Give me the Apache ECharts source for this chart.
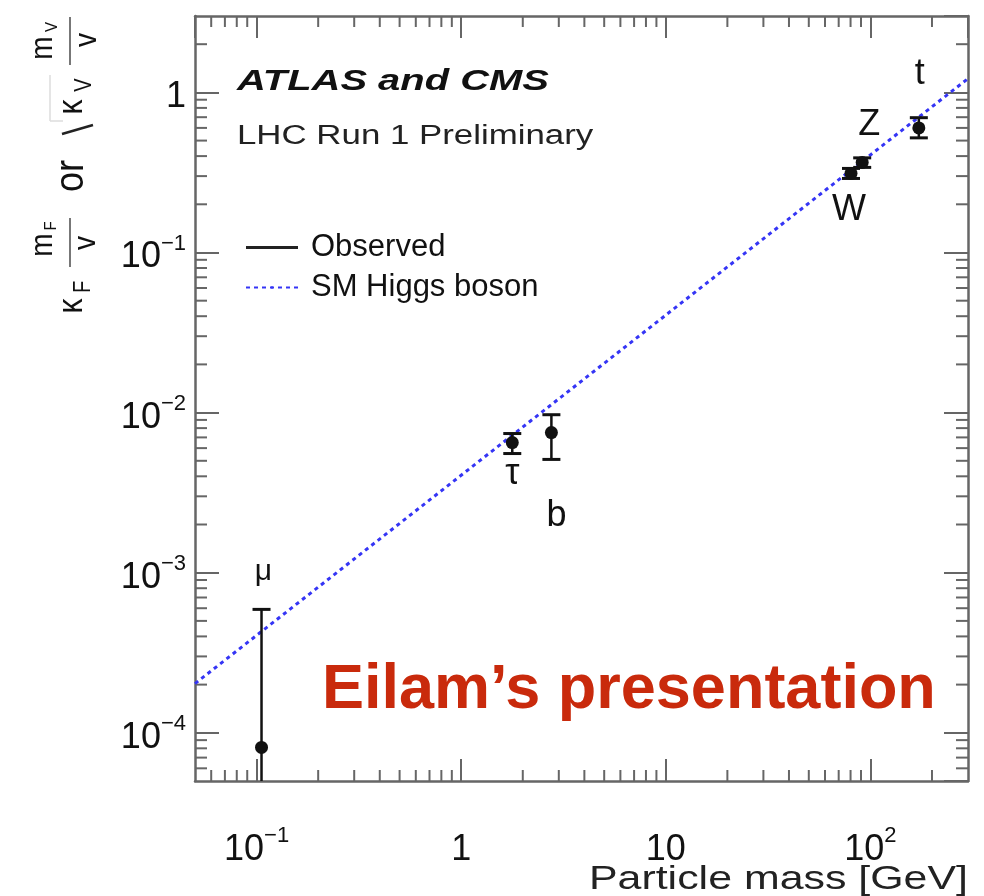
<!DOCTYPE html>
<html><head><meta charset="utf-8">
<script src="https://cdn.jsdelivr.net/npm/echarts@6/dist/echarts.min.js"></script>
<style>html,body{margin:0;padding:0;background:#fff}#c{width:984px;height:896px}</style>
</head><body><div id="c"></div>
<script>
// ---- data ----
const particles  = ['μ', 'τ', 'b', 'W', 'Z', 't'];
const masses     = [0.1057, 1.777, 2.76, 80.4, 91.2, 172.5];          // GeV
const observed   = [8.1e-5, 6.5e-3, 7.5e-3, 0.312, 0.365, 0.60];
const lowerBound = [1e-6, 5.55e-3, 5.1e-3, 0.29, 0.34, 0.52];          // μ lower bound is off-scale
const upperBound = [5.9e-4, 7.4e-3, 9.7e-3, 0.335, 0.39, 0.695];
const smMass     = [0.05, 300];
const smCoupling = [2.03e-4, 1.22];
const xRange = [0.05, 300];
const yRange = [5e-5, 3];
const xMinorTicks = [0.06,0.07,0.08,0.09, 0.2,0.3,0.4,0.5,0.6,0.7,0.8,0.9, 2,3,4,5,6,7,8,9, 20,30,40,50,60,70,80,90, 200];
const yMinorTicks = [6e-5,7e-5,8e-5,9e-5, 2e-4,3e-4,4e-4,5e-4,6e-4,7e-4,8e-4,9e-4,
                     2e-3,3e-3,4e-3,5e-3,6e-3,7e-3,8e-3,9e-3, 2e-2,3e-2,4e-2,5e-2,6e-2,7e-2,8e-2,9e-2,
                     0.2,0.3,0.4,0.5,0.6,0.7,0.8,0.9, 2];

// ---- styles ----
const FONT = '"Liberation Sans", Arial, Helvetica, sans-serif';
const INK = '#111';
const FRAME = '#666';
const labelOffset = { 'μ': [2, -176], 'τ': [0, 32], 'b': [5, 83], 'W': [-2, 37], 'Z': [7, -37], 't': [1, -54] };
const labelFont = { 'μ': 30 };

function logLabel(v) {
  const l = Math.log10(v), e = Math.round(l);
  if (Math.abs(l - e) > 1e-6) return '';
  if (e === 0) return '{n|1}';
  if (e === 1) return '{n|10}';
  return '{n|10}{s|' + (e < 0 ? '−' : '') + Math.abs(e) + '}';
}
const labelRich = {
  n: { fontSize: 36, fontFamily: FONT, color: INK, lineHeight: 50 },
  s: { fontSize: 22, fontFamily: FONT, color: INK, lineHeight: 22, verticalAlign: 'top' }
};

function axisBase(extra) {
  return Object.assign({
    type: 'log', logBase: 10,
    axisLine: { show: true, lineStyle: { color: FRAME, width: 2.5 } },
    splitLine: { show: false },
    minorTick: { show: false }
  }, extra);
}

const chart = echarts.init(document.getElementById('c'), null, { renderer: 'canvas' });

function rotText(text, x, y, size, extra) {
  return Object.assign({
    type: 'text', x: x, y: y, rotation: Math.PI / 2, scaleY: 1.15, z: 100,
    style: { text: text, font: size + 'px ' + FONT, fill: INK, align: 'center', verticalAlign: 'middle' }
  }, extra || {});
}
function seg(x1, y1, x2, y2, color, w) {
  return { type: 'line', z: 100, shape: { x1: x1, y1: y1, x2: x2, y2: y2 }, style: { stroke: color, lineWidth: w } };
}

const option = {
  animation: false,
  backgroundColor: '#fff',
  grid: { left: 195, right: 16, top: 16, bottom: 115, containLabel: false },
  legend: {
    orient: 'vertical', left: 245, top: 232, padding: 0, itemWidth: 52, itemHeight: 3, itemGap: 9,
    textStyle: { fontSize: 31, fontFamily: FONT, color: INK, padding: [0, 0, 0, 8] },
    selectedMode: false,
    data: [
      { name: 'Observed', icon: 'rect', itemStyle: { color: '#222' } },
      { name: 'SM Higgs boson' }
    ]
  },
  xAxis: [
    axisBase({ position: 'bottom', min: xRange[0], max: xRange[1],
      axisTick: { show: true, inside: true, length: 22, lineStyle: { color: FRAME, width: 2 } },
      axisLabel: { show: true, margin: 44, formatter: logLabel, rich: labelRich, showMinLabel: false, showMaxLabel: false } }),
    axisBase({ position: 'top', min: xRange[0], max: xRange[1],
      axisTick: { show: true, inside: true, length: 22, lineStyle: { color: FRAME, width: 2 } },
      axisLabel: { show: false } })
  ],
  yAxis: [
    axisBase({ position: 'left', min: yRange[0], max: yRange[1],
      axisTick: { show: true, inside: true, length: 24, lineStyle: { color: FRAME, width: 2 } },
      axisLabel: { show: true, margin: 9, formatter: logLabel, rich: labelRich, padding: [10, 0, 0, 0], showMinLabel: false, showMaxLabel: false } }),
    axisBase({ position: 'right', min: yRange[0], max: yRange[1],
      axisTick: { show: true, inside: true, length: 24, lineStyle: { color: FRAME, width: 2 } },
      axisLabel: { show: false } })
  ],
  series: [
    { // minor ticks, x (bottom & top)
      type: 'custom', silent: true, z: 1, clip: false,
      data: xMinorTicks.map(v => [v, yRange[0]]),
      renderItem: function (params, api) {
        const b = api.coord([api.value(0), yRange[0]]);
        const t = api.coord([api.value(0), yRange[1]]);
        const st = { stroke: FRAME, lineWidth: 2 };
        return { type: 'group', children: [
          { type: 'line', shape: { x1: b[0], y1: b[1], x2: b[0], y2: b[1] - 11 }, style: st },
          { type: 'line', shape: { x1: t[0], y1: t[1], x2: t[0], y2: t[1] + 11 }, style: st }
        ] };
      }
    },
    { // minor ticks, y (left & right)
      type: 'custom', silent: true, z: 1, clip: false,
      data: yMinorTicks.map(v => [xRange[0], v]),
      renderItem: function (params, api) {
        const l = api.coord([xRange[0], api.value(1)]);
        const r = api.coord([xRange[1], api.value(1)]);
        const st = { stroke: FRAME, lineWidth: 2 };
        return { type: 'group', children: [
          { type: 'line', shape: { x1: l[0], y1: l[1], x2: l[0] + 12, y2: l[1] }, style: st },
          { type: 'line', shape: { x1: r[0], y1: r[1], x2: r[0] - 12, y2: r[1] }, style: st }
        ] };
      }
    },
    {
      name: 'SM Higgs boson', type: 'line', symbol: 'none', z: 3, clip: true,
      data: smMass.map((m, i) => [m, smCoupling[i]]),
      lineStyle: { color: '#3535f5', width: 3, type: [4, 4] },
      itemStyle: { color: '#3535f5' }
    },
    {
      name: 'Observed', type: 'custom', z: 4, clip: true,
      itemStyle: { color: '#222' },
      data: masses.map((m, i) => [m, lowerBound[i], upperBound[i]]),
      renderItem: function (params, api) {
        const x = api.value(0), lo = api.value(1), hi = api.value(2);
        const pHi = api.coord([x, hi]), pLo = api.coord([x, lo]);
        const st = { stroke: INK, lineWidth: 2.5 };
        const cw = 9;
        const ch = [
          { type: 'line', shape: { x1: pHi[0], y1: pHi[1], x2: pLo[0], y2: pLo[1] }, style: st },
          { type: 'line', shape: { x1: pHi[0] - cw, y1: pHi[1], x2: pHi[0] + cw, y2: pHi[1] }, style: { stroke: INK, lineWidth: 3 } }
        ];
        if (lo >= yRange[0]) ch.push({ type: 'line', shape: { x1: pLo[0] - cw, y1: pLo[1], x2: pLo[0] + cw, y2: pLo[1] }, style: { stroke: INK, lineWidth: 3 } });
        return { type: 'group', children: ch };
      }
    },
    {
      name: 'Observed', type: 'scatter', z: 5, symbol: 'circle', symbolSize: 13,
      itemStyle: { color: INK, opacity: 1 },
      data: masses.map((m, i) => ({
        value: [m, observed[i]], name: particles[i],
        label: { show: true, position: 'inside', offset: labelOffset[particles[i]],
                 formatter: particles[i], fontSize: labelFont[particles[i]] || 36, fontFamily: FONT, color: INK }
      }))
    }
  ],
  graphic: [
    { type: 'text', x: 237, y: 82, scaleX: 1.33, z: 100,
      style: { text: 'ATLAS and CMS', font: 'italic bold 30px ' + FONT, fill: INK, align: 'left', verticalAlign: 'middle' } },
    { type: 'text', x: 237, y: 137, scaleX: 1.29, z: 100,
      style: { text: 'LHC Run 1 Preliminary', font: '27px ' + FONT, fill: '#222', align: 'left', verticalAlign: 'middle' } },
    { type: 'text', x: 968, y: 880, scaleX: 1.3, z: 100,
      style: { text: 'Particle mass [GeV]', font: '33px ' + FONT, fill: '#222', align: 'right', verticalAlign: 'middle' } },
    { type: 'text', x: 322, y: 691, z: 100,
      style: { text: 'Eilam’s presentation', font: 'bold 63px ' + FONT, fill: '#c92a0c', align: 'left', verticalAlign: 'middle' } },
    // y-axis title: κF mF/v  or  √κV mV/v  (rotated)
    rotText('κ', 72, 306, 30),
    rotText('F', 84, 287, 20),
    rotText('m', 43, 245, 28),
    rotText('F', 51, 226, 15),
    seg(70, 218, 70, 267, '#777', 2),
    rotText('v', 86, 243, 28),
    rotText('or', 72, 176, 36),
    seg(62, 134, 93, 125, '#222', 2.5),
    seg(50, 121, 63, 121, '#ddd', 1.5),
    seg(50, 121, 50, 75, '#ddd', 1.5),
    rotText('κ', 72, 107, 30),
    rotText('V', 85, 85, 20),
    rotText('m', 43, 48, 28),
    rotText('V', 52, 27, 15),
    seg(70, 17, 70, 65, '#777', 2),
    rotText('v', 87, 40, 28)
  ]
};
chart.setOption(option);
</script>
</body></html>
